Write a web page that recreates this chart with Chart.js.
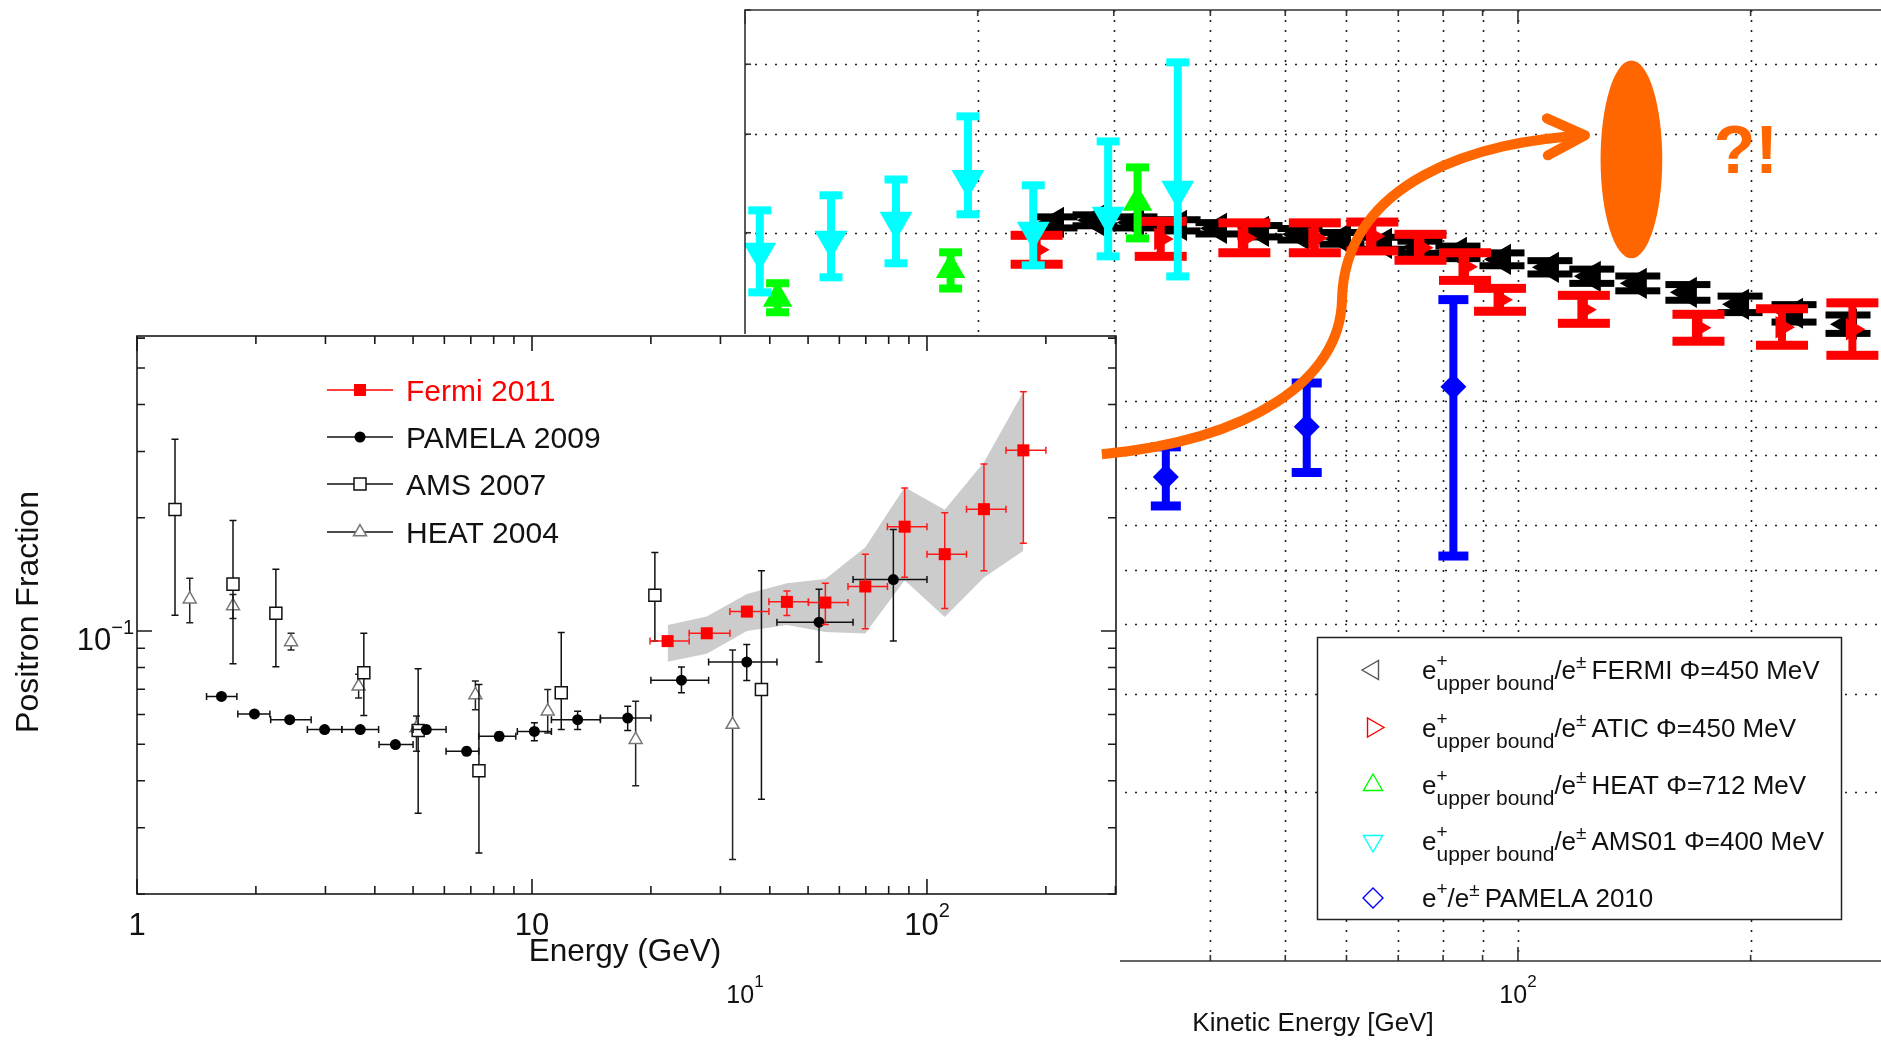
<!DOCTYPE html>
<html>
<head>
<meta charset="utf-8">
<script src="https://cdn.jsdelivr.net/npm/chart.js@4.4.1/dist/chart.umd.min.js"></script>
<style>
  html, body { margin: 0; padding: 0; background: #fff; overflow: hidden; }
  #wrap { position: relative; width: 1881px; height: 1040px; }
  canvas { position: absolute; left: 0; }
  #bg { top: 0; z-index: 1; }
  #inset { top: 334px; z-index: 2; }
  #marks { top: 0; z-index: 3; pointer-events: none; }
</style>
</head>
<body>
<div id="wrap">
  <canvas id="bg" width="1881" height="1040"></canvas>
  <canvas id="inset" width="1120" height="638"></canvas>
  <canvas id="marks" width="1881" height="1040"></canvas>
</div>
<script>
const FONT = '"Liberation Sans", Arial, Helvetica, sans-serif';
const ORANGE = '#ff6600';

// ---------- inset: positron fraction vs energy ----------
const fermiE    = [22.05, 27.7, 35.0, 44.2, 55.3, 69.8, 87.8, 110.9, 139.4, 175.4];
const fermiF    = [0.0940, 0.0986, 0.1126, 0.1195, 0.1190, 0.1313, 0.1893, 0.1600, 0.2107, 0.3020];
const fermiELo  = [19.9, 25.0, 31.7, 39.8, 50.1, 63.1, 79.4, 100, 125.9, 158.5];
const fermiEHi  = [25.0, 31.7, 39.8, 50.1, 63.1, 79.4, 100, 125.9, 158.5, 200];
const fermiFLo  = [0.0925, 0.0970, 0.1100, 0.1100, 0.1040, 0.1014, 0.1390, 0.1147, 0.1445, 0.1710];
const fermiFHi  = [0.0955, 0.1000, 0.1150, 0.1278, 0.1340, 0.1600, 0.2400, 0.2060, 0.2780, 0.4320];
const sysUpper  = [0.1037, 0.1092, 0.1253, 0.1340, 0.1374, 0.1668, 0.2410, 0.2101, 0.2809, 0.4325];
const sysLower  = [0.0829, 0.0870, 0.1000, 0.1037, 0.0994, 0.0984, 0.1365, 0.1090, 0.1387, 0.1635];

const pamE   = [1.636, 1.983, 2.435, 2.985, 3.674, 4.51, 5.40, 6.83, 8.26, 10.14, 13.05, 17.47, 23.9, 34.97, 53.3, 82.2];
const pamF   = [0.0670, 0.0602, 0.0581, 0.0547, 0.0547, 0.0499, 0.0547, 0.0479, 0.0525, 0.0541, 0.0581, 0.0587, 0.0740, 0.0827, 0.1055, 0.1370];
const pamELo = [1.50, 1.80, 2.18, 2.70, 3.30, 4.10, 5.00, 6.06, 7.33, 9.18, 11.2, 14.9, 20.0, 28.0, 41.7, 65.0];
const pamEHi = [1.79, 2.17, 2.76, 3.30, 4.09, 5.00, 6.06, 7.33, 9.10, 11.2, 14.9, 20.0, 28.0, 41.7, 65.0, 100];
const pamFLo = [0.0660, 0.0595, 0.0574, 0.0540, 0.0540, 0.0493, 0.0535, 0.0470, 0.0512, 0.0511, 0.0547, 0.0544, 0.0685, 0.0739, 0.0827, 0.0940];
const pamFHi = [0.0680, 0.0610, 0.0588, 0.0554, 0.0554, 0.0506, 0.0560, 0.0490, 0.0538, 0.0570, 0.0612, 0.0631, 0.0802, 0.0921, 0.1290, 0.1860];

const amsE   = [1.248, 1.75, 2.247, 3.752, 5.15, 7.34, 11.86, 20.47, 38.1];
const amsF   = [0.2103, 0.1332, 0.1115, 0.0774, 0.0544, 0.0425, 0.0685, 0.1245, 0.0699];
const amsFLo = [0.1101, 0.0818, 0.0803, 0.0596, 0.0328, 0.0257, 0.0547, 0.0940, 0.0357];
const amsFHi = [0.3230, 0.1965, 0.1460, 0.0986, 0.0794, 0.0721, 0.0990, 0.1617, 0.1446];

const heatE   = [1.36, 1.75, 2.455, 3.64, 5.10, 7.19, 10.96, 18.3, 32.2];
const heatF   = [0.1215, 0.1166, 0.0935, 0.0713, 0.0552, 0.0676, 0.0612, 0.0514, 0.0564];
const heatFLo = [0.1052, 0.1080, 0.0890, 0.0664, 0.0479, 0.0618, 0.0536, 0.0388, 0.0247];
const heatFHi = [0.1380, 0.1250, 0.0986, 0.0767, 0.0594, 0.0736, 0.0699, 0.0651, 0.0890];

const insetXTicks = [1, 2, 3, 4, 5, 6, 7, 8, 9, 10, 20, 30, 40, 50, 60, 70, 80, 90, 100, 200, 300];
const insetYTicks = [0.02, 0.03, 0.04, 0.05, 0.06, 0.07, 0.08, 0.09, 0.1, 0.2, 0.3, 0.4, 0.5, 0.6];
const insetXLabels = [[1, '1', ''], [10, '10', ''], [100, '10', '2']];
const insetYLabels = [[0.1, '10', '\u22121']];

// ---------- background: e+ upper bounds / e± ----------
const fermiUbE  = [25.18, 28.37, 31.95, 36.33, 40.92, 46.38, 52.24, 59.19, 66.89, 74.69, 83.63, 95.35, 110.0, 124.6, 142.9, 165.9, 193.8, 227.6, 267.3];
const fermiUbF  = [0.2087, 0.2105, 0.2087, 0.2062, 0.2037, 0.2012, 0.1987, 0.1954, 0.1915, 0.1884, 0.1845, 0.1793, 0.1735, 0.1672, 0.1624, 0.1565, 0.1490, 0.1436, 0.1373];
const fermiUbLo = [0.2040, 0.2058, 0.2040, 0.2015, 0.1990, 0.1966, 0.1941, 0.1908, 0.1869, 0.1838, 0.1798, 0.1746, 0.1688, 0.1624, 0.1575, 0.1515, 0.1440, 0.1385, 0.1322];
const fermiUbHi = [0.2135, 0.2153, 0.2135, 0.2110, 0.2085, 0.2060, 0.2035, 0.2002, 0.1963, 0.1932, 0.1893, 0.1841, 0.1783, 0.1722, 0.1674, 0.1616, 0.1541, 0.1488, 0.1426];

const aticE  = [23.84, 34.5, 44.26, 54.6, 64.8, 74.8, 85.4, 94.8, 121.7, 171.2, 219.6, 270.8];
const aticF  = [0.1864, 0.1950, 0.1958, 0.1958, 0.1971, 0.1880, 0.1739, 0.1518, 0.1457, 0.1353, 0.1356, 0.1345];
const aticLo = [0.1757, 0.1815, 0.1842, 0.1842, 0.1856, 0.1786, 0.1644, 0.1448, 0.1378, 0.1280, 0.1259, 0.1208];
const aticHi = [0.1979, 0.2096, 0.2083, 0.2083, 0.2090, 0.1987, 0.1842, 0.1591, 0.1546, 0.1430, 0.1463, 0.1499];

const heatUbE  = [11.02, 18.45, 32.2];
const heatUbF  = [0.1527, 0.1720, 0.2267];
const heatUbLo = [0.1442, 0.1590, 0.1954];
const heatUbHi = [0.1625, 0.1845, 0.2617];

const ams01E  = [10.45, 12.92, 15.68, 19.43, 23.6, 29.5, 36.3];
const ams01F  = [0.1845, 0.1940, 0.2096, 0.2491, 0.2012, 0.2140, 0.2381];
const ams01Lo = [0.1565, 0.1665, 0.1764, 0.2158, 0.1749, 0.1815, 0.1671];
const ams01Hi = [0.2193, 0.2333, 0.2490, 0.3228, 0.2431, 0.2912, 0.4031];

const pam10E  = [35.03, 53.3, 82.5];
const pam10F  = [0.0732, 0.0900, 0.1061];
const pam10Lo = [0.0650, 0.0746, 0.0529];
const pam10Hi = [0.0829, 0.1078, 0.1519];

const bgXTicks = [10, 20, 30, 40, 50, 60, 70, 80, 90, 100, 200];
const bgYTicks = [0.01, 0.02, 0.03, 0.04, 0.05, 0.06, 0.07, 0.08, 0.09, 0.1, 0.2, 0.3, 0.4, 0.5];
const bgXLabels = [[10, '10', '1'], [100, '10', '2']];

// annotation, in background data units (GeV, fraction)
const arrowPath = [[28.95, 0.0804], [45.0, 0.0852], [58.86, 0.1090], [59.2, 0.1515],
                   [59.57, 0.2481], [89.3, 0.2924], [122.1, 0.2985]];
const arrowHead = [[109.0, 0.3202], [122.1, 0.2985], [109.3, 0.2750]];
const blobE = [127.9, 153.7];
const blobF = [0.1800, 0.4064];
const noteAt = [197.2, 0.2554];

const pts = (xs, ys) => xs.map((v, i) => ({x: v, y: ys[i]}));
const isDecade = v => Math.abs(Math.log10(v) - Math.round(Math.log10(v))) < 1e-9;

function marker(ctx, style, x, y, r, rot) {
  ctx.beginPath();
  if (style === 'circle') {
    ctx.arc(x, y, r, 0, Math.PI * 2);
  } else if (style === 'rect') {
    const s = r * Math.SQRT1_2;
    ctx.rect(x - s, y - s, 2 * s, 2 * s);
  } else if (style === 'rectRot') {
    ctx.moveTo(x - r, y); ctx.lineTo(x, y - r); ctx.lineTo(x + r, y); ctx.lineTo(x, y + r);
    ctx.closePath();
  } else {
    let a = (rot || 0) * Math.PI / 180;
    ctx.moveTo(x + Math.sin(a) * r, y - Math.cos(a) * r);
    for (let k = 0; k < 2; k++) {
      a += Math.PI * 2 / 3;
      ctx.lineTo(x + Math.sin(a) * r, y - Math.cos(a) * r);
    }
    ctx.closePath();
  }
}

// "10" with a raised exponent, centred on cx
function powerLabel(ctx, base, exp, cx, baseline, size, supSize, rise, align) {
  ctx.textAlign = 'left';
  ctx.textBaseline = 'alphabetic';
  ctx.font = `${size}px ${FONT}`;
  const wb = ctx.measureText(base).width;
  ctx.font = `${supSize}px ${FONT}`;
  const we = exp ? ctx.measureText(exp).width : 0;
  const left = align === 'right' ? cx - wb - we : cx - (wb + we) / 2;
  ctx.font = `${size}px ${FONT}`;
  ctx.fillText(base, left, baseline);
  if (exp) {
    ctx.font = `${supSize}px ${FONT}`;
    ctx.fillText(exp, left + wb, baseline - rise);
  }
}

const errorBars = {
  id: 'errorBars',
  beforeDatasetDraw(chart, args) {
    const ds = chart.data.datasets[args.index];
    const e = ds.err;
    if (!e) return;
    const {ctx, chartArea: a, scales: {x, y}} = chart;
    ctx.save();
    ctx.beginPath();
    ctx.rect(a.left, a.top, a.right - a.left, a.bottom - a.top);
    ctx.clip();
    ctx.strokeStyle = e.color;
    ctx.fillStyle = e.color;
    ctx.lineWidth = e.width;
    ds.data.forEach((p, i) => {
      const px = x.getPixelForValue(p.x);
      const py = y.getPixelForValue(p.y);
      if (e.lo) {
        const t = y.getPixelForValue(e.hi[i]);
        const b = y.getPixelForValue(e.lo[i]);
        ctx.beginPath(); ctx.moveTo(px, t); ctx.lineTo(px, b); ctx.stroke();
        if (e.capThick) {
          ctx.fillRect(px - e.cap / 2, t - e.capThick / 2, e.cap, e.capThick);
          ctx.fillRect(px - e.cap / 2, b - e.capThick / 2, e.cap, e.capThick);
        } else {
          ctx.beginPath();
          ctx.moveTo(px - e.cap / 2, t); ctx.lineTo(px + e.cap / 2, t);
          ctx.moveTo(px - e.cap / 2, b); ctx.lineTo(px + e.cap / 2, b);
          ctx.stroke();
        }
      }
      if (e.xlo) {
        const l = x.getPixelForValue(e.xlo[i]);
        const r = x.getPixelForValue(e.xhi[i]);
        ctx.beginPath(); ctx.moveTo(l, py); ctx.lineTo(r, py);
        ctx.moveTo(l, py - e.cap / 2); ctx.lineTo(l, py + e.cap / 2);
        ctx.moveTo(r, py - e.cap / 2); ctx.lineTo(r, py + e.cap / 2);
        ctx.stroke();
      }
    });
    ctx.restore();
  }
};

// ---------- background chart ----------
const bgDecor = {
  id: 'bgDecor',
  beforeDatasetsDraw(chart) {
    const {ctx, chartArea: a, scales: {x, y}} = chart;
    ctx.save();
    ctx.strokeStyle = '#222';
    ctx.lineWidth = 1.6;
    ctx.setLineDash([2, 8]);
    bgXTicks.forEach(v => {
      const px = Math.round(x.getPixelForValue(v)) + 0.5;
      if (px <= a.left + 1) return;
      ctx.beginPath(); ctx.moveTo(px, a.top); ctx.lineTo(px, a.bottom); ctx.stroke();
    });
    bgYTicks.forEach(v => {
      const py = Math.round(y.getPixelForValue(v)) + 0.5;
      if (py <= a.top + 1 || py >= a.bottom - 1) return;
      ctx.beginPath(); ctx.moveTo(a.left, py); ctx.lineTo(a.right, py); ctx.stroke();
    });
    ctx.restore();
  },
  afterDraw(chart) {
    const {ctx, chartArea: a, scales: {x, y}} = chart;
    ctx.save();
    ctx.strokeStyle = '#333';
    ctx.lineWidth = 1.6;
    ctx.beginPath();
    ctx.moveTo(a.left, a.bottom); ctx.lineTo(a.right, a.bottom);
    ctx.moveTo(a.left, a.bottom); ctx.lineTo(a.left, a.top); ctx.lineTo(a.right, a.top);
    ctx.stroke();
    bgXTicks.forEach(v => {
      const px = x.getPixelForValue(v);
      const len = isDecade(v) ? 14 : 6;
      ctx.beginPath();
      ctx.moveTo(px, a.bottom); ctx.lineTo(px, a.bottom - len);
      ctx.moveTo(px, a.top); ctx.lineTo(px, a.top + len);
      ctx.stroke();
    });
    bgYTicks.forEach(v => {
      const py = y.getPixelForValue(v);
      const len = isDecade(v) ? 14 : 6;
      ctx.beginPath(); ctx.moveTo(a.left, py); ctx.lineTo(a.left + len, py); ctx.stroke();
    });

    ctx.fillStyle = '#111';
    bgXLabels.forEach(([v, b, e]) => powerLabel(ctx, b, e, x.getPixelForValue(v), 1003, 25, 17, 16));
    ctx.font = `26px ${FONT}`;
    ctx.textAlign = 'center';
    ctx.textBaseline = 'alphabetic';
    ctx.fillText('Kinetic Energy [GeV]', 1313, 1031);

    // legend box
    const L = {left: 1317, top: 637, w: 524, h: 282, mx: 1373, tx: 1422,
               rows: [679, 736.5, 794, 850, 907]};
    ctx.fillStyle = '#fff';
    ctx.fillRect(L.left, L.top, L.w, L.h);
    ctx.strokeStyle = '#222';
    ctx.lineWidth = 1.5;
    ctx.strokeRect(L.left + 0.5, L.top + 0.5, L.w, L.h);
    chart.data.datasets.forEach((ds, i) => {
      const base = L.rows[i];
      ctx.strokeStyle = ds.legendColor;
      ctx.lineWidth = 1.4;
      marker(ctx, ds.pointStyle, L.mx, base - 9, ds.pointStyle === 'rectRot' ? 10 : 11, ds.rotation);
      ctx.stroke();
      ctx.fillStyle = '#111';
      let tx = L.tx;
      ctx.textAlign = 'left';
      ctx.textBaseline = 'alphabetic';
      ctx.font = `26px ${FONT}`;
      ctx.fillText('e', tx, base);
      tx += ctx.measureText('e').width;
      ctx.font = `19px ${FONT}`;
      ctx.fillText('+', tx, base - 12);
      let end = tx + ctx.measureText('+').width;
      if (ds.upper) {
        ctx.font = `21px ${FONT}`;
        ctx.fillText('upper bound', tx, base + 11);
        end = Math.max(end, tx + ctx.measureText('upper bound').width);
      }
      tx = end;
      ctx.font = `26px ${FONT}`;
      ctx.fillText('/e', tx, base);
      tx += ctx.measureText('/e').width;
      ctx.font = `19px ${FONT}`;
      ctx.fillText('\u00b1', tx, base - 11);
      tx += ctx.measureText('\u00b1').width + 5;
      ctx.font = `26px ${FONT}`;
      ctx.fillText(ds.label, tx, base);
    });
    ctx.restore();
  }
};

function bgSet(label, E, F, lo, hi, color, style, rot, r, cap, capThick, order, upper) {
  return {
    label, data: pts(E, F), order, upper,
    pointStyle: style, rotation: rot, pointRadius: r,
    backgroundColor: color, borderColor: color, borderWidth: 0,
    legendColor: color === '#000000' ? '#555' : color,
    err: {lo, hi, color, width: 8, cap, capThick}
  };
}

const bgChart = new Chart(document.getElementById('bg'), {
  type: 'scatter',
  data: {
    datasets: [
      bgSet('FERMI \u03a6=450 MeV', fermiUbE, fermiUbF, fermiUbLo, fermiUbHi, '#000000', 'triangle', -90, 18, 45, 7, 5, true),
      bgSet('ATIC \u03a6=450 MeV', aticE, aticF, aticLo, aticHi, '#ff0000', 'triangle', 90, 13, 52, 9, 4, true),
      bgSet('HEAT \u03a6=712 MeV', heatUbE, heatUbF, heatUbLo, heatUbHi, '#00ff00', 'triangle', 0, 17, 23, 8, 3, true),
      bgSet('AMS01 \u03a6=400 MeV', ams01E, ams01F, ams01Lo, ams01Hi, '#00ffff', 'triangle', 180, 19, 23, 8, 2, true),
      bgSet('PAMELA 2010', pam10E, pam10F, pam10Lo, pam10Hi, '#0000ff', 'rectRot', 0, 13, 30, 9, 1, false)
    ]
  },
  options: {
    responsive: false,
    animation: false,
    devicePixelRatio: 1,
    layout: {autoPadding: false, padding: {top: 10, left: 0, right: 0, bottom: 0}},
    plugins: {legend: {display: false}, tooltip: {enabled: false}},
    scales: {
      x: {
        type: 'logarithmic', min: 10, max: 294.9,
        ticks: {display: false}, grid: {display: false}, border: {display: false},
        afterFit: s => { s.height = 79; }
      },
      y: {
        type: 'logarithmic', min: 0.01, max: 0.5,
        ticks: {display: false}, grid: {display: false}, border: {display: false},
        afterFit: s => { s.width = 745; }
      }
    }
  },
  plugins: [errorBars, bgDecor]
});

// ---------- inset chart ----------
const insetDecor = {
  id: 'insetDecor',
  beforeDraw(chart) {
    const {ctx, width, height} = chart;
    ctx.save();
    ctx.fillStyle = '#fff';
    ctx.fillRect(0, 0, width, height);
    ctx.restore();
  },
  afterDraw(chart) {
    const {ctx, chartArea: a, scales: {x, y}} = chart;
    ctx.save();
    ctx.strokeStyle = '#1a1a1a';
    ctx.lineWidth = 1.6;
    ctx.strokeRect(a.left, a.top, a.right - a.left, a.bottom - a.top);
    insetXTicks.forEach(v => {
      const px = x.getPixelForValue(v);
      const len = isDecade(v) ? 15 : 8;
      ctx.beginPath();
      ctx.moveTo(px, a.bottom); ctx.lineTo(px, a.bottom - len);
      ctx.moveTo(px, a.top); ctx.lineTo(px, a.top + len);
      ctx.stroke();
    });
    insetYTicks.forEach(v => {
      const py = y.getPixelForValue(v);
      const len = isDecade(v) ? 15 : 8;
      ctx.beginPath();
      ctx.moveTo(a.left, py); ctx.lineTo(a.left + len, py);
      ctx.moveTo(a.right, py); ctx.lineTo(a.right - len, py);
      ctx.stroke();
    });

    ctx.fillStyle = '#111';
    insetXLabels.forEach(([v, b, e]) => powerLabel(ctx, b, e, x.getPixelForValue(v), 601, 31, 20, 18));
    insetYLabels.forEach(([v, b, e]) => powerLabel(ctx, b, e, a.left - 3, y.getPixelForValue(v) + 19, 31, 20, 16, 'right'));

    ctx.font = `31.5px ${FONT}`;
    ctx.textAlign = 'center';
    ctx.textBaseline = 'alphabetic';
    ctx.fillText('Energy (GeV)', 625, 627);
    ctx.save();
    ctx.translate(38, 278);
    ctx.rotate(-Math.PI / 2);
    ctx.font = `32px ${FONT}`;
    ctx.fillText('Positron Fraction', 0, 0);
    ctx.restore();

    // legend
    const rows = [56, 103, 150, 198];
    chart.data.datasets.filter(ds => ds.legendRow !== undefined).forEach(ds => {
      const cy = rows[ds.legendRow];
      ctx.strokeStyle = ds.lineColor;
      ctx.lineWidth = 1.6;
      ctx.beginPath(); ctx.moveTo(327, cy); ctx.lineTo(393, cy); ctx.stroke();
      ctx.fillStyle = ds.backgroundColor;
      ctx.strokeStyle = ds.borderColor;
      ctx.lineWidth = ds.borderWidth || 1;
      marker(ctx, ds.pointStyle, 360, cy, ds.pointRadius, 0);
      ctx.fill();
      if (ds.borderWidth) ctx.stroke();
      ctx.fillStyle = ds.textColor;
      ctx.font = `30px ${FONT}`;
      ctx.textAlign = 'left';
      ctx.fillText(ds.label, 406, cy + 11);
    });
    ctx.restore();
  }
};

const insetChart = new Chart(document.getElementById('inset'), {
  type: 'scatter',
  data: {
    datasets: [
      {
        type: 'line', label: 'sys-hi', data: pts(fermiE, sysUpper), order: 10,
        borderColor: 'rgba(0,0,0,0)', borderWidth: 1, pointRadius: 0, tension: 0,
        fill: '+1', backgroundColor: '#cccccc'
      },
      {
        type: 'line', label: 'sys-lo', data: pts(fermiE, sysLower), order: 9,
        borderColor: 'rgba(0,0,0,0)', borderWidth: 1, pointRadius: 0, tension: 0, fill: false
      },
      {
        label: 'HEAT 2004', data: pts(heatE, heatF), order: 4, legendRow: 3,
        pointStyle: 'triangle', pointRadius: 7.5, backgroundColor: '#ffffff',
        borderColor: '#777777', borderWidth: 1.5, lineColor: '#111', textColor: '#111',
        err: {lo: heatFLo, hi: heatFHi, color: '#222', width: 1.5, cap: 7}
      },
      {
        label: 'AMS 2007', data: pts(amsE, amsF), order: 3, legendRow: 2,
        pointStyle: 'rect', pointRadius: 8.5, backgroundColor: '#ffffff',
        borderColor: '#111111', borderWidth: 1.5, lineColor: '#111', textColor: '#111',
        err: {lo: amsFLo, hi: amsFHi, color: '#111', width: 1.5, cap: 7}
      },
      {
        label: 'PAMELA 2009', data: pts(pamE, pamF), order: 2, legendRow: 1,
        pointStyle: 'circle', pointRadius: 5.5, backgroundColor: '#000000',
        borderColor: '#000000', borderWidth: 0, lineColor: '#111', textColor: '#111',
        err: {lo: pamFLo, hi: pamFHi, xlo: pamELo, xhi: pamEHi, color: '#111', width: 1.5, cap: 7}
      },
      {
        label: 'Fermi 2011', data: pts(fermiE, fermiF), order: 1, legendRow: 0,
        pointStyle: 'rect', pointRadius: 8.5, backgroundColor: '#ff0000',
        borderColor: '#ff0000', borderWidth: 0, lineColor: '#ff0000', textColor: '#ff0000',
        err: {lo: fermiFLo, hi: fermiFHi, xlo: fermiELo, xhi: fermiEHi, color: '#ff1a1a', width: 1.5, cap: 7}
      }
    ]
  },
  options: {
    responsive: false,
    animation: false,
    devicePixelRatio: 1,
    layout: {autoPadding: false, padding: {top: 2, right: 4, left: 0, bottom: 0}},
    plugins: {legend: {display: false}, tooltip: {enabled: false}},
    scales: {
      x: {
        type: 'logarithmic', min: 1, max: 301,
        ticks: {display: false}, grid: {display: false}, border: {display: false},
        afterFit: s => { s.height = 78; }
      },
      y: {
        type: 'logarithmic', min: 0.02, max: 0.608,
        ticks: {display: false}, grid: {display: false}, border: {display: false},
        afterFit: s => { s.width = 137; }
      }
    }
  },
  plugins: [errorBars, insetDecor]
});

// ---------- orange note on top of both ----------
(function drawNote() {
  const c = document.getElementById('marks').getContext('2d');
  const sx = bgChart.scales.x, sy = bgChart.scales.y;
  const P = p => [sx.getPixelForValue(p[0]), sy.getPixelForValue(p[1])];
  c.strokeStyle = ORANGE;
  c.fillStyle = ORANGE;
  c.lineWidth = 10;
  c.lineCap = 'butt';
  const q = arrowPath.map(P);
  c.beginPath();
  c.moveTo(q[0][0], q[0][1]);
  c.bezierCurveTo(q[1][0], q[1][1], q[2][0], q[2][1], q[3][0], q[3][1]);
  c.bezierCurveTo(q[4][0], q[4][1], q[5][0], q[5][1], q[6][0], q[6][1]);
  c.stroke();
  const h = arrowHead.map(P);
  c.lineCap = 'round';
  c.lineJoin = 'round';
  c.beginPath();
  c.moveTo(h[0][0], h[0][1]); c.lineTo(h[1][0], h[1][1]); c.lineTo(h[2][0], h[2][1]);
  c.stroke();

  const l = sx.getPixelForValue(blobE[0]), r = sx.getPixelForValue(blobE[1]);
  const b = sy.getPixelForValue(blobF[0]), t = sy.getPixelForValue(blobF[1]);
  c.beginPath();
  c.ellipse((l + r) / 2, (t + b) / 2, (r - l) / 2, (b - t) / 2, 0, 0, Math.PI * 2);
  c.fill();

  const n = P(noteAt);
  c.font = `bold 68px ${FONT}`;
  c.textAlign = 'center';
  c.textBaseline = 'alphabetic';
  c.fillText('?!', n[0], n[1]);
})();
</script>
</body>
</html>
